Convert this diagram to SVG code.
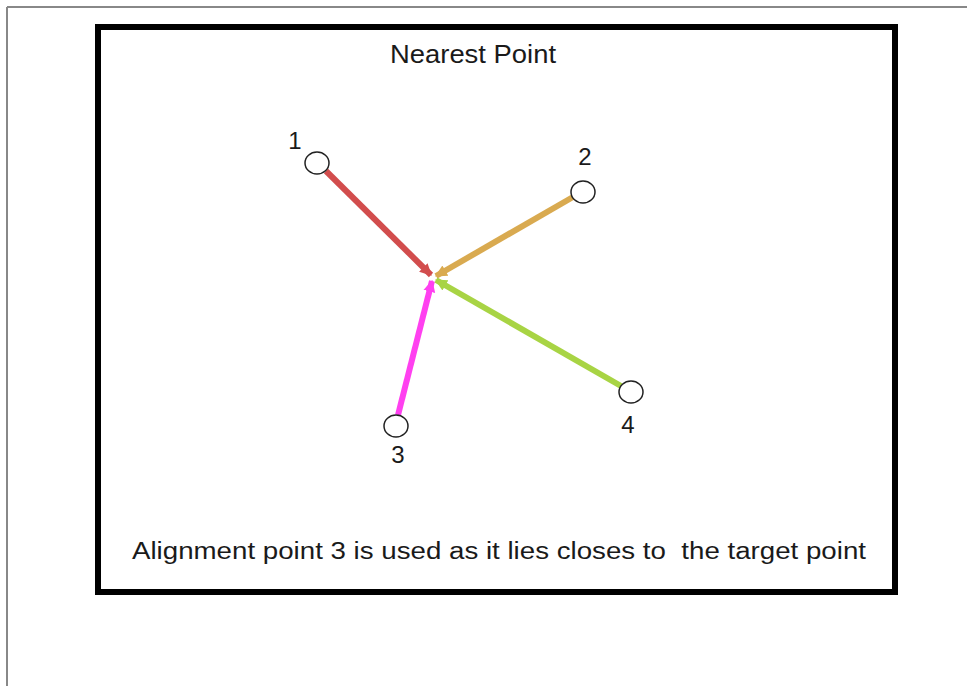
<svg xmlns="http://www.w3.org/2000/svg" width="967" height="686" viewBox="0 0 967 686">
<style>
text{font-family:"Liberation Sans",Arial,sans-serif;fill:#1a1a1a}
.pt{fill:#fff;stroke:#222;stroke-width:1.5}
.lbl{font-size:24px;text-anchor:middle}
.c{stroke-width:6;fill:none;stroke-linecap:butt}
</style>
<defs>
<marker id="ar" viewBox="0 0 10 10" refX="9" refY="5" markerWidth="2" markerHeight="2.4" orient="auto" markerUnits="strokeWidth"><path d="M0,0L10,5L0,10z" fill="context-stroke"/></marker>
</defs>
<rect width="967" height="686" fill="#fff"/>
<line x1="7" y1="7" x2="967" y2="7" stroke="#888" stroke-width="2"/>
<line x1="7" y1="7" x2="7" y2="686" stroke="#888" stroke-width="2"/>
<rect x="98" y="27" width="797" height="565" fill="none" stroke="#000" stroke-width="6"/>
<text x="473" y="63" font-size="26" text-anchor="middle" textLength="166" lengthAdjust="spacingAndGlyphs">Nearest Point</text>
<g id="connectors">
<line class="c" x1="326" y1="171" x2="431" y2="275" stroke="#d24d4d" marker-end="url(#ar)"/>
<line class="c" x1="573" y1="197" x2="436" y2="276" stroke="#d9aa50" marker-end="url(#ar)"/>
<line class="c" x1="398" y1="415" x2="432" y2="281" stroke="#ff40f0" marker-end="url(#ar)"/>
<line class="c" x1="621" y1="386" x2="436" y2="280" stroke="#a8d444" marker-end="url(#ar)"/>
</g>
<g id="p1"><ellipse class="pt" cx="317" cy="163" rx="12" ry="11"/><text class="lbl" x="295" y="149">1</text></g>
<g id="p2"><ellipse class="pt" cx="583" cy="192" rx="12" ry="11"/><text class="lbl" x="585" y="165">2</text></g>
<g id="p3"><ellipse class="pt" cx="396" cy="426" rx="12" ry="11"/><text class="lbl" x="398" y="463">3</text></g>
<g id="p4"><ellipse class="pt" cx="631" cy="392" rx="12" ry="11"/><text class="lbl" x="628" y="433">4</text></g>
<text x="132" y="559" font-size="23" textLength="734" lengthAdjust="spacingAndGlyphs" xml:space="preserve">Alignment point 3 is used as it lies closes to  the target point</text>
</svg>
